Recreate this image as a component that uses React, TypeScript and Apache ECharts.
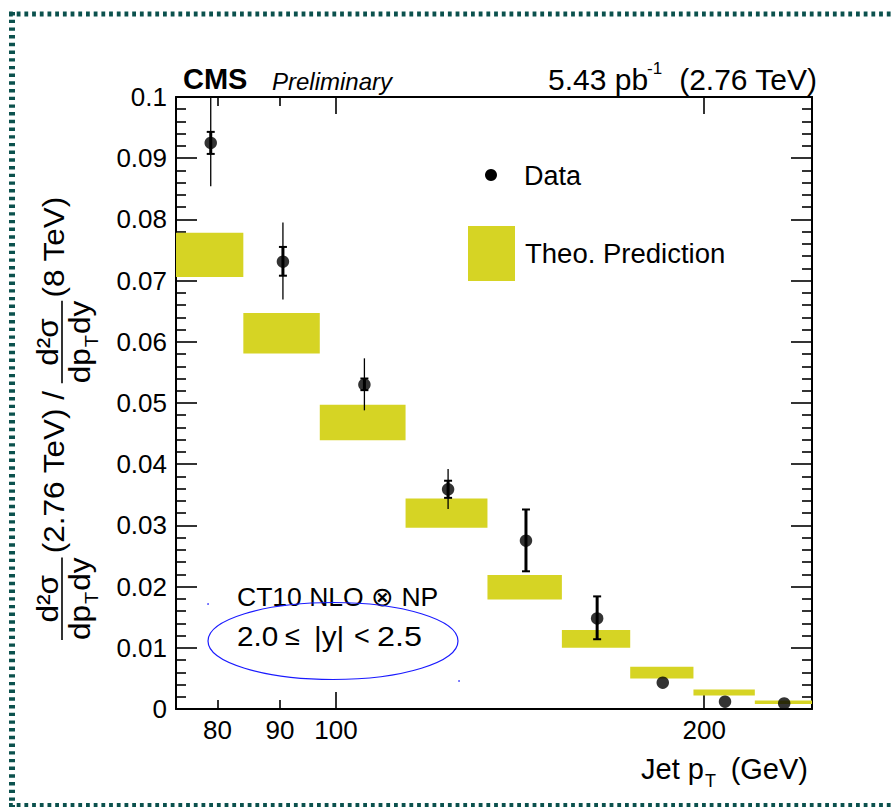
import React, { useEffect, useRef } from "react";
import * as echarts from "echarts";

// ---- data ----
const binEdges = [74, 84, 97, 114, 133, 153, 174, 196, 220, 245];
const theoryLow = [0.0706, 0.0581, 0.0439, 0.0296, 0.0179, 0.01, 0.005, 0.0022, 0.0008];
const theoryHigh = [0.0778, 0.0647, 0.0497, 0.0344, 0.0219, 0.0129, 0.0069, 0.0032, 0.0014];
const dataPt = [79, 90.5, 105.5, 123.5, 143, 163.5, 185, 208, 232.5];
const dataVal = [0.0925, 0.0731, 0.053, 0.0359, 0.0275, 0.0148, 0.0043, 0.0012, 0.0009];
const statLow = [0.0907, 0.0708, 0.0521, 0.0345, 0.0225, 0.0114, 0.0043, 0.0012, 0.0009];
const statHigh = [0.0943, 0.0755, 0.054, 0.0373, 0.0326, 0.0184, 0.0043, 0.0012, 0.0009];
const totLow = [0.0854, 0.0669, 0.0488, 0.0327, 0.0225, 0.0114, 0.0043, 0.0012, 0.0009];
const totHigh = [0.1, 0.0795, 0.0573, 0.0392, 0.0326, 0.0184, 0.0043, 0.0012, 0.0009];
const xMajorTicks = [100, 200];
const xMinorTicks = [80, 90];
const xTickLabels = [80, 90, 100, 200];

const FONT = "'Liberation Sans', Arial, Helvetica, sans-serif";
const YELLOW = "#d6d424";
const BORDER = "#0b514d";

function txt(text: string, x: number, y: number, size: number, extra: any = {}) {
  return {
    type: "text",
    x,
    y,
    scaleX: extra.scaleX || 1,
    style: {
      text,
      fontSize: size,
      fontFamily: FONT,
      fill: "#000",
      align: extra.align || "left",
      verticalAlign: extra.verticalAlign || "middle",
      fontWeight: extra.fontWeight || "normal",
      fontStyle: extra.fontStyle || "normal",
    },
  };
}

function fraction(lx: number, F: number) {
  const sub = Math.round(F * 0.63);
  const wDp = 2 * 0.556 * F;
  const wT = 0.611 * sub;
  const wDy = (0.556 + 0.5) * F;
  const w = wDp + wT + 2 + wDy;
  return {
    width: w,
    children: [
      txt("dp", lx, 3, F, { verticalAlign: "top" }),
      txt("T", lx + wDp + 1, 3 + F * 0.55, sub, { verticalAlign: "top" }),
      txt("dy", lx + wDp + wT + 2, 3, F, { verticalAlign: "top" }),
      {
        type: "line",
        shape: { x1: lx, y1: 0, x2: lx + w, y2: 0 },
        style: { stroke: "#000", lineWidth: 1.6 },
      },
      txt("d²σ", lx + w / 2, 1, F, { align: "center", verticalAlign: "bottom" }),
    ],
  };
}

function yTitle() {
  const F = 30;
  const f1 = fraction(0, F);
  const l1 = f1.width + 4;
  const w1 = 5.26 * F;
  const l2 = l1 + w1 + 4;
  const f2 = fraction(l2, F);
  const l3 = l2 + f2.width + 3;
  const children: any[] = [
    ...f1.children,
    txt("(2.76 TeV) /", l1, -8, F),
    ...f2.children,
    txt("(8 TeV)", l3, -8, F),
  ];
  return { type: "group", x: 62, y: 640, rotation: Math.PI / 2, scaleX: 1.05, children };
}

export default function App() {
  const ref = useRef<HTMLDivElement>(null);
  useEffect(() => {
    const chart = echarts.init(ref.current!, null, { renderer: "svg" });

    const boxData = theoryLow.map((lo, i) => [binEdges[i], binEdges[i + 1], lo, theoryHigh[i]]);
    const errData = dataPt.map((x, i) => [x, dataVal[i], totLow[i], totHigh[i], statLow[i], statHigh[i]]);
    const ptData = dataPt.map((x, i) => [x, dataVal[i]]);

    const axisLine = { show: true, lineStyle: { color: "#000", width: 2 } };
    const tickStyle = { color: "#000", width: 1.6 };
    const labelStyle = { color: "#000", fontSize: 26, fontFamily: FONT };

    const xBase = { type: "log", logBase: 10, min: 74, max: 245, splitLine: { show: false }, gridIndex: 0 };

    const option: any = {
      animation: false,
      backgroundColor: "#fff",
      grid: { left: 176, right: 82, top: 97, bottom: 98, outerBoundsMode: "none", containLabel: false },
      xAxis: [
        {
          ...xBase,
          position: "bottom",
          axisLine,
          axisTick: { show: true, inside: true, length: 17, lineStyle: tickStyle, customValues: xMajorTicks },
          axisLabel: { ...labelStyle, margin: 8, customValues: xTickLabels, formatter: (v: number) => String(Math.round(v)) },
        },
        {
          ...xBase,
          position: "bottom",
          axisLine: { show: false },
          axisTick: { show: true, inside: true, length: 9, lineStyle: tickStyle, customValues: xMinorTicks },
          axisLabel: { show: false, customValues: xMinorTicks },
        },
        {
          ...xBase,
          position: "top",
          axisLine,
          axisTick: { show: true, inside: true, length: 17, lineStyle: tickStyle, customValues: xMajorTicks },
          axisLabel: { show: false, customValues: xMajorTicks },
        },
        {
          ...xBase,
          position: "top",
          axisLine: { show: false },
          axisTick: { show: true, inside: true, length: 9, lineStyle: tickStyle, customValues: xMinorTicks },
          axisLabel: { show: false, customValues: xMinorTicks },
        },
      ],
      yAxis: [
        {
          type: "value",
          position: "left",
          min: 0,
          max: 0.1,
          interval: 0.01,
          axisLine,
          splitLine: { show: false },
          axisTick: { show: true, inside: true, length: 21, lineStyle: tickStyle },
          minorTick: { show: true, splitNumber: 5, length: 10, lineStyle: tickStyle },
          axisLabel: {
            ...labelStyle,
            margin: 9,
            formatter: (v: number) => (v === 0 ? "0" : String(Math.round(v * 100) / 100)),
          },
        },
        {
          type: "value",
          position: "right",
          min: 0,
          max: 0.1,
          interval: 0.01,
          axisLine,
          splitLine: { show: false },
          axisTick: { show: true, inside: true, length: 21, lineStyle: tickStyle },
          minorTick: { show: true, splitNumber: 5, length: 10, lineStyle: tickStyle },
          axisLabel: { show: false },
        },
      ],
      series: [
        {
          type: "custom",
          name: "Theo. Prediction",
          xAxisIndex: 0,
          yAxisIndex: 0,
          z: 2,
          encode: { x: [0, 1], y: [2, 3] },
          data: boxData,
          renderItem: (params: any, api: any) => {
            const p0 = api.coord([api.value(0), api.value(3)]);
            const p1 = api.coord([api.value(1), api.value(2)]);
            return {
              type: "rect",
              shape: { x: p0[0], y: p0[1], width: p1[0] - p0[0], height: p1[1] - p0[1] },
              style: { fill: YELLOW },
            };
          },
        },
        {
          type: "custom",
          name: "errors",
          xAxisIndex: 0,
          yAxisIndex: 0,
          z: 3,
          clip: true,
          encode: { x: 0, y: [2, 3] },
          data: errData,
          renderItem: (params: any, api: any) => {
            const x = api.value(0);
            const c = api.coord([x, api.value(1)]);
            const tl = api.coord([x, api.value(2)]);
            const th = api.coord([x, api.value(3)]);
            const sl = api.coord([x, api.value(4)]);
            const sh = api.coord([x, api.value(5)]);
            const children: any[] = [];
            if (tl[1] - th[1] > 2) {
              children.push({
                type: "line",
                shape: { x1: c[0], y1: tl[1], x2: c[0], y2: th[1] },
                style: { stroke: "#000", lineWidth: 1.3 },
              });
            }
            if (sl[1] - sh[1] > 2) {
              children.push({
                type: "line",
                shape: { x1: c[0], y1: sl[1], x2: c[0], y2: sh[1] },
                style: { stroke: "#000", lineWidth: 3 },
              });
              children.push({
                type: "line",
                shape: { x1: c[0] - 4, y1: sl[1], x2: c[0] + 4, y2: sl[1] },
                style: { stroke: "#000", lineWidth: 2 },
              });
              children.push({
                type: "line",
                shape: { x1: c[0] - 4, y1: sh[1], x2: c[0] + 4, y2: sh[1] },
                style: { stroke: "#000", lineWidth: 2 },
              });
            }
            return { type: "group", children };
          },
        },
        {
          type: "scatter",
          name: "Data",
          xAxisIndex: 0,
          yAxisIndex: 0,
          z: 4,
          symbol: "circle",
          symbolSize: 12.5,
          itemStyle: { color: "#000" },
          data: ptData,
        },
      ],
      graphic: {
        elements: [
          // dotted frame
          { type: "line", shape: { x1: 9, y1: 14, x2: 894, y2: 14 }, style: { stroke: BORDER, lineWidth: 5, lineDash: [3.8, 3.9] } },
          { type: "line", shape: { x1: 12, y1: 12, x2: 12, y2: 807 }, style: { stroke: BORDER, lineWidth: 6, lineDash: [3.4, 4.3] } },
          { type: "line", shape: { x1: 9, y1: 805.5, x2: 894, y2: 805.5 }, style: { stroke: BORDER, lineWidth: 5, lineDash: [3.8, 3.9] } },
          // header
          txt("CMS", 183, 79, 29, { fontWeight: "bold" }),
          txt("Preliminary", 272, 81, 24, { fontStyle: "italic" }),
          txt("5.43 pb", 548, 79, 30),
          txt("-1", 647, 68, 17),
          txt("(2.76 TeV)", 817, 79, 30, { align: "right" }),
          // legend
          { type: "circle", shape: { cx: 491, cy: 175, r: 6 }, style: { fill: "#000" } },
          txt("Data", 524, 176, 27),
          { type: "rect", shape: { x: 468, y: 226, width: 47, height: 55 }, style: { fill: YELLOW } },
          txt("Theo. Prediction", 525, 253, 27.5),
          // annotation
          txt("CT10 NLO ⊗ NP", 237, 597, 26.5),
          txt("2.0", 237, 636, 27, { scaleX: 1.1 }),
          txt("≤", 285, 636, 27),
          txt("|y|", 314, 636, 27, { scaleX: 1.1 }),
          txt("<", 354, 636, 27),
          txt("2.5", 377, 636, 27, { scaleX: 1.2 }),
          { type: "ellipse", shape: { cx: 333, cy: 641, rx: 125, ry: 38.5 }, style: { fill: "none", stroke: "#1a1aff", lineWidth: 1.2 } },
          { type: "circle", shape: { cx: 208, cy: 604, r: 0.8 }, style: { fill: "#3333ff" } },
          { type: "circle", shape: { cx: 459, cy: 681, r: 0.8 }, style: { fill: "#3333ff" } },
          // x axis title
          txt("Jet p", 641, 769, 29),
          txt("T", 705, 781, 18),
          txt("(GeV)", 808, 769, 29, { align: "right" }),
          // y axis title
          yTitle(),
        ],
      },
    };

    chart.setOption(option);
    return () => chart.dispose();
  }, []);

  return (
    <div
      ref={ref}
      style={{ position: "fixed", left: 0, top: 0, width: 894, height: 807, background: "#fff" }}
    />
  );
}
